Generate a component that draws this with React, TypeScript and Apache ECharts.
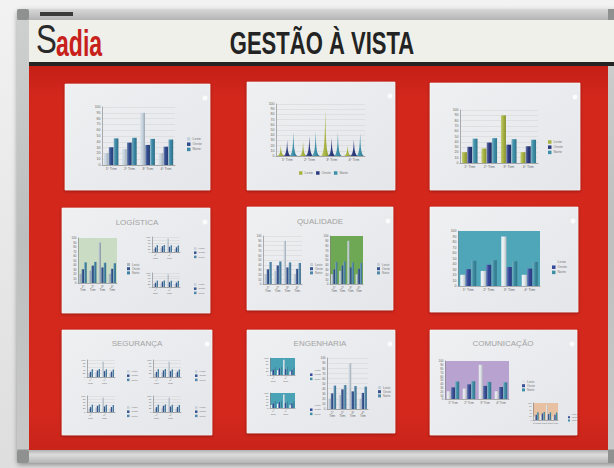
import React, { useEffect, useRef } from "react";
import * as echarts from "echarts";

// ---- data ----
const quarters = ["1º Trim", "2º Trim", "3º Trim", "4º Trim"];
const seriesNames = ["Leste", "Oeste", "Norte"];
const leste = [20.4, 27.4, 90, 20.4];
const oeste = [30.6, 38.6, 34.6, 31.6];
const norte = [45.9, 46.9, 45, 43.9];
const seriesValues = [leste, oeste, norte];
const headerTitle = "GESTÃO À VISTA";
const cardTitles = ["LOGÍSTICA", "QUALIDADE", "SEGURANÇA", "ENGENHARIA", "COMUNICAÇÃO"];

// ---- palettes ----
const palBlue = ["#c6d3de", "#2f4c8e", "#3b88a6"];
const palOlive = ["#a8b440", "#2b3b7e", "#3d90a9"];
const palGreenBg = ["#a9b7c3", "#34548f", "#3e82a3"];
const palTealBg = ["#e6eef1", "#34489a", "#3e8ea4"];
const palSmall = ["#c4cfda", "#35548f", "#4f87ab"];
const palPurple = ["#dfe3e8", "#3a4f96", "#3f8fa8"];

const SPIKE = "path://M0,10 L10,10 C5.5,10 5.5,5 5,0 C4.5,5 4.5,10 0,10 z";

type Spec = {
  r: number[];
  pal: string[];
  bg?: string;
  kind?: "bar" | "spike";
  lab: "one" | "two" | "sparse";
  fs: number;
  iv: number;
  lg: number[];
  lgH?: boolean;
  gap?: string;
};

const specs: Spec[] = [
  // row 1
  { r: [102, 107, 175, 165], pal: palBlue, lab: "one", fs: 3.5, iv: 10, lg: [182, 132], gap: "20%" },
  { r: [276, 104, 365, 156], pal: palOlive, kind: "spike", lab: "one", fs: 3.5, iv: 10, lg: [294, 166], lgH: true },
  { r: [460, 110, 538, 163], pal: palOlive, lab: "one", fs: 3.5, iv: 10, lg: [543, 135], gap: "20%" },
  // LOGÍSTICA
  { r: [78, 238, 117, 283], pal: palGreenBg, bg: "#cadcc3", lab: "two", fs: 3, iv: 10, lg: [122, 258], gap: "22%" },
  { r: [152, 237, 180, 252], pal: palSmall, lab: "sparse", fs: 2.5, iv: 20, lg: [189, 242], gap: "28%" },
  { r: [152, 273, 180, 287], pal: palSmall, lab: "sparse", fs: 2.5, iv: 20, lg: [189, 278], gap: "28%" },
  // QUALIDADE
  { r: [263, 236, 302, 284], pal: palSmall, lab: "two", fs: 3, iv: 10, lg: [305, 258], gap: "22%" },
  { r: [330, 236, 363, 284], pal: palSmall, bg: "#6ea854", lab: "two", fs: 3, iv: 10, lg: [372, 258], gap: "22%" },
  // teal chart
  { r: [458, 231, 540, 286], pal: palTealBg, bg: "#4fa6b9", lab: "one", fs: 3.5, iv: 10, lg: [547, 255], gap: "22%" },
  // SEGURANÇA
  { r: [87, 360, 115, 377], pal: palSmall, lab: "sparse", fs: 2.5, iv: 20, lg: [122, 365], gap: "28%" },
  { r: [153, 360, 181, 377], pal: palSmall, lab: "sparse", fs: 2.5, iv: 20, lg: [190, 365], gap: "28%" },
  { r: [87, 396, 115, 412], pal: palSmall, lab: "sparse", fs: 2.5, iv: 20, lg: [122, 401], gap: "28%" },
  { r: [153, 396, 181, 412], pal: palSmall, lab: "sparse", fs: 2.5, iv: 20, lg: [190, 401], gap: "28%" },
  // ENGENHARIA
  { r: [270, 358, 295, 375], pal: palTealBg, bg: "#4aa2b7", lab: "sparse", fs: 2.5, iv: 20, lg: [305, 364], gap: "22%" },
  { r: [270, 393, 295, 408], pal: palTealBg, bg: "#4aa2b7", lab: "sparse", fs: 2.5, iv: 20, lg: [305, 399], gap: "22%" },
  { r: [327, 358, 368, 409], pal: palSmall, lab: "two", fs: 3, iv: 10, lg: [373, 381], gap: "22%" },
  // COMUNICAÇÃO
  { r: [445, 361, 509, 399], pal: palPurple, bg: "#b8a2cf", lab: "one", fs: 3, iv: 10, lg: [517, 375], gap: "22%" },
  { r: [533, 403, 558, 420], pal: palPurple, bg: "#e8c1a3", lab: "one", fs: 2, iv: 20, lg: [563, 408], gap: "22%" },
];

const cards = [
  [65, 84, 210, 190], [247, 82, 395, 190], [430, 83, 580, 190],
  [62, 208, 210, 313], [247, 207, 393, 310], [430, 207, 578, 312],
  [62, 330, 212, 435], [247, 330, 395, 433], [430, 330, 577, 435],
];
const titlePos = [[137, 222], [320, 221], [137, 343], [320, 343], [503, 343]];

function mix(hex: string, t: number) {
  const n = parseInt(hex.slice(1), 16);
  const r = (n >> 16) & 255, g = (n >> 8) & 255, b = n & 255;
  const f = (c: number) => Math.round(t >= 0 ? c + (255 - c) * t : c * (1 + t));
  return `rgb(${f(r)},${f(g)},${f(b)})`;
}
function barColor(hex: string) {
  return {
    type: "linear", x: 0, y: 0, x2: 1, y2: 0,
    colorStops: [
      { offset: 0, color: mix(hex, 0.3) },
      { offset: 0.45, color: hex },
      { offset: 1, color: mix(hex, -0.2) },
    ],
  };
}

function buildOption() {
  const grid: any[] = [], xAxis: any[] = [], yAxis: any[] = [], series: any[] = [], legend: any[] = [];
  specs.forEach((c, i) => {
    grid.push({
      left: c.r[0], top: c.r[1], width: c.r[2] - c.r[0], height: c.r[3] - c.r[1],
      show: !!c.bg, backgroundColor: c.bg || "transparent", borderWidth: 0,
    });
    xAxis.push({
      type: "category", gridIndex: i, data: quarters,
      axisTick: { show: false },
      axisLine: { lineStyle: { color: "#7d7d7d", width: 0.6 } },
      axisLabel: {
        fontSize: c.fs, color: "#666", margin: 1.5, lineHeight: c.fs + 0.6,
        interval: c.lab === "sparse" ? 1 : 0,
        formatter: c.lab === "one" ? undefined : (v: string) => v.replace(" ", "\n"),
        fontFamily: "Liberation Sans",
      },
    });
    yAxis.push({
      type: "value", gridIndex: i, min: 0, max: 100, interval: c.iv,
      axisLine: { show: true, lineStyle: { color: "#7d7d7d", width: 0.6 } },
      axisTick: { show: false },
      axisLabel: { fontSize: c.fs, color: "#666", margin: 1.5, fontFamily: "Liberation Sans" },
      splitLine: { show: !c.bg, lineStyle: { color: "#d2d2d2", width: 0.5 } },
    });
    seriesValues.forEach((vals, k) => {
      if (c.kind === "spike") {
        series.push({
          type: "pictorialBar", name: seriesNames[k], xAxisIndex: i, yAxisIndex: i,
          data: vals, symbol: SPIKE, barWidth: 9, barGap: "-30%", symbolSize: [9, "100%"],
          itemStyle: { color: barColor(c.pal[k]) }, z: 3 + k,
        });
      } else {
        series.push({
          type: "bar", name: seriesNames[k], xAxisIndex: i, yAxisIndex: i,
          data: vals, barGap: "6%", barCategoryGap: c.gap || "25%",
          itemStyle: { color: barColor(c.pal[k]) },
        });
      }
    });
    legend.push({
      left: c.lg[0], top: c.lg[1], orient: c.lgH ? "horizontal" : "vertical",
      itemWidth: c.fs, itemHeight: c.fs, itemGap: c.lgH ? 3 : 1.2,
      selectedMode: false, icon: "rect",
      textStyle: { fontSize: c.fs, color: "#777", padding: [0, 0, 0, -3], fontFamily: "Liberation Sans" },
      data: seriesNames.map((n, k) => ({ name: n, itemStyle: { color: c.pal[k] } })),
    });
  });

  let z = -300;
  const el = (o: any) => ({ ...o, z: z++, silent: true });
  const lin = (x2: number, y2: number, stops: [number, string][]) => ({
    type: "linear", x: 0, y: 0, x2, y2,
    colorStops: stops.map(([offset, color]) => ({ offset, color })),
  });

  const graphic: any[] = [
    el({ type: "rect", shape: { x: 0, y: 0, width: 614, height: 468 },
      style: { fill: lin(0, 1, [[0, "#f2f2f2"], [1, "#dedede"]]) } }),
    // aluminium frame
    el({ type: "rect", shape: { x: 17, y: 9, width: 640, height: 454, r: 3 },
      style: { fill: lin(0, 1, [[0, "#cfd0d0"], [0.5, "#bdbebe"], [1, "#c9c9c9"]]),
        shadowBlur: 5, shadowColor: "rgba(0,0,0,0.35)", shadowOffsetY: 2 } }),
    el({ type: "rect", shape: { x: 17, y: 449, width: 640, height: 14 },
      style: { fill: lin(0, 1, [[0, "#a9a9a9"], [0.4, "#dcdcdc"], [1, "#b5b5b5"]]) } }),
    el({ type: "rect", shape: { x: 17, y: 9, width: 640, height: 11 },
      style: { fill: lin(0, 1, [[0, "#d8d8d8"], [1, "#b4b4b4"]]) } }),
    el({ type: "rect", shape: { x: 17, y: 9, width: 12, height: 11, r: 2 }, style: { fill: "#8f9090" } }),
    el({ type: "rect", shape: { x: 17, y: 450, width: 12, height: 13, r: 2 }, style: { fill: "#8f9090" } }),
    el({ type: "rect", shape: { x: 608, y: 9, width: 8, height: 11 }, style: { fill: "#8f9090" } }),
    el({ type: "rect", shape: { x: 608, y: 450, width: 8, height: 13 }, style: { fill: "#8f9090" } }),
    el({ type: "rect", shape: { x: 40, y: 12, width: 33, height: 4 }, style: { fill: "#3a3a3a" } }),
    // header
    el({ type: "rect", shape: { x: 29, y: 20, width: 600, height: 43 }, style: { fill: "#eef0e9" } }),
    el({ type: "rect", shape: { x: 29, y: 62, width: 600, height: 4 }, style: { fill: "#242424" } }),
    // red panel
    el({ type: "rect", shape: { x: 29, y: 66, width: 579, height: 384 },
      style: { fill: lin(0, 1, [[0, "#c41f17"], [0.08, "#d3271c"], [0.9, "#d4281d"], [1, "#c9241a"]]) } }),
  ];
  cards.forEach((c) => {
    graphic.push(el({ type: "rect", shape: { x: c[0], y: c[1], width: c[2] - c[0], height: c[3] - c[1] },
      style: { fill: lin(1, 1, [[0, "#eff0f2"], [1, "#e4e6ea"]]), stroke: "#f7f7f7", lineWidth: 0.6,
        shadowBlur: 3, shadowColor: "rgba(60,0,0,0.45)", shadowOffsetY: 1 } }));
    graphic.push(el({ type: "circle", shape: { cx: c[2] - 5, cy: c[1] + 14, r: 2.5 },
      style: { fill: "rgba(255,255,255,0.8)" } }));
  });
  cardTitles.forEach((t, i) => {
    graphic.push(el({ type: "text", x: titlePos[i][0], y: titlePos[i][1],
      style: { text: t, fontSize: 8, fontFamily: "Liberation Sans", fill: "#a3a3a3", align: "center", verticalAlign: "middle" } }));
  });
  graphic.push(el({ type: "text", x: 36, y: 60, scaleX: 0.78,
    style: { text: "S", fontSize: 40, fontFamily: "Liberation Sans", fill: "#2a2a2a", align: "left", verticalAlign: "bottom" } }));
  graphic.push(el({ type: "text", x: 56, y: 61, scaleX: 0.64,
    style: { text: "adia", fontSize: 36, fontWeight: "bold", fontFamily: "Liberation Sans", fill: "#c8201b", align: "left", verticalAlign: "bottom" } }));
  graphic.push(el({ type: "text", x: 322, y: 43, scaleX: 0.76, scaleY: 1.08,
    style: { text: headerTitle, fontSize: 29, fontWeight: "bold", fontFamily: "Liberation Sans", fill: "#232323", align: "center", verticalAlign: "middle" } }));

  return { animation: false, grid, xAxis, yAxis, series, legend, graphic };
}

export default function App() {
  const ref = useRef<HTMLDivElement>(null);
  useEffect(() => {
    if (!ref.current) return;
    const chart = echarts.init(ref.current, undefined, { renderer: "svg" });
    chart.setOption(buildOption() as any);
    return () => chart.dispose();
  }, []);
  return <div ref={ref} style={{ position: "absolute", left: 0, top: 0, width: 614, height: 468 }} />;
}
